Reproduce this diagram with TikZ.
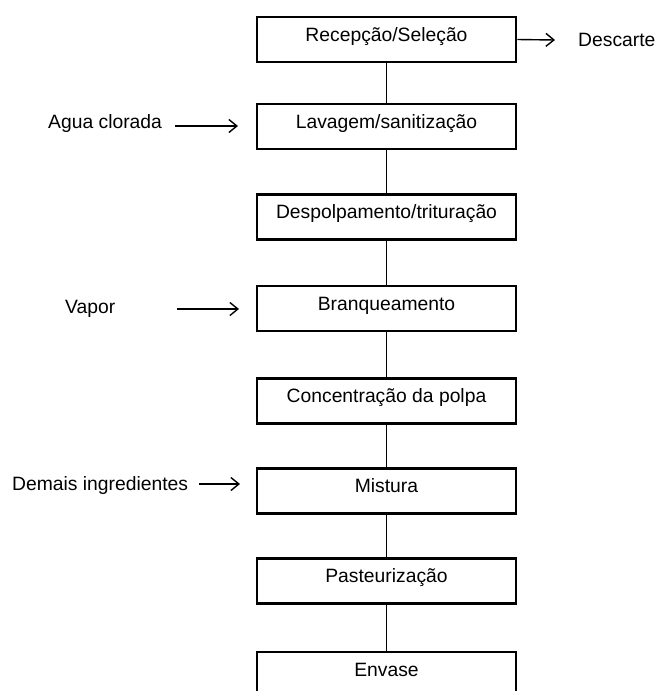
\documentclass[tikz,border=0pt]{standalone}
\usepackage{fontspec}
\setmainfont{Liberation Sans}
\usetikzlibrary{arrows.meta}
\begin{document}
\begin{tikzpicture}[x=1pt,y=-1pt,
  stepbox/.style={draw=black, line width=2.6pt, minimum width=259pt, minimum height=45pt,
    inner sep=0pt, text height=12pt, text depth=8.6pt, font=\fontsize{19.3}{22}\selectfont},
  lbl/.style={anchor=base west, inner sep=0pt, font=\fontsize{19.3}{22}\selectfont},
  conn/.style={draw=black, line width=1.4pt},
  arr/.style={draw=black, line width=1.4pt, -{Straight Barb[length=8pt,width=13pt]}}]
\useasboundingbox (0,0) rectangle (657,691);
\fill[white] (0,0) rectangle (657,691);
\node[stepbox] (b1) at (386.5,39.5) {Recepção/Seleção};
\node[stepbox] (b2) at (386.5,126.5) {Lavagem/sanitização};
\node[stepbox] (b3) at (386.5,217) {Despolpamento/trituração};
\node[stepbox] (b4) at (386.5,308.5) {Branqueamento};
\node[stepbox] (b5) at (386.5,401) {Concentração da polpa};
\node[stepbox] (b6) at (386.5,491) {Mistura};
\node[stepbox] (b7) at (386.5,581) {Pasteurização};
\node[stepbox] (b8) at (386.5,674.5) {Envase};
\draw[conn] (b1) -- (b2);
\draw[conn] (b2) -- (b3);
\draw[conn] (b3) -- (b4);
\draw[conn] (b4) -- (b5);
\draw[conn] (b5) -- (b6);
\draw[conn] (b6) -- (b7);
\draw[conn] (b7) -- (b8);
\node[lbl] (desc) at (578,46.5) {Descarte};
\node[lbl] (agua) at (48,128) {Agua clorada};
\node[lbl] (vapor) at (65,313) {Vapor};
\node[lbl] (demais) at (12,490) {Demais ingredientes};
\coordinate (descend) at (555,40);
\coordinate (aguastart) at (175,126);
\coordinate (aguaend) at (238,126);
\coordinate (vaporstart) at (177,309);
\coordinate (vaporend) at (239,309);
\coordinate (demaisstart) at (199,484);
\coordinate (demaisend) at (240,484);
\draw[arr] (b1.east) -- (descend);
\draw[arr] (aguastart) -- (aguaend);
\draw[arr] (vaporstart) -- (vaporend);
\draw[arr] (demaisstart) -- (demaisend);
\end{tikzpicture}
\end{document}
